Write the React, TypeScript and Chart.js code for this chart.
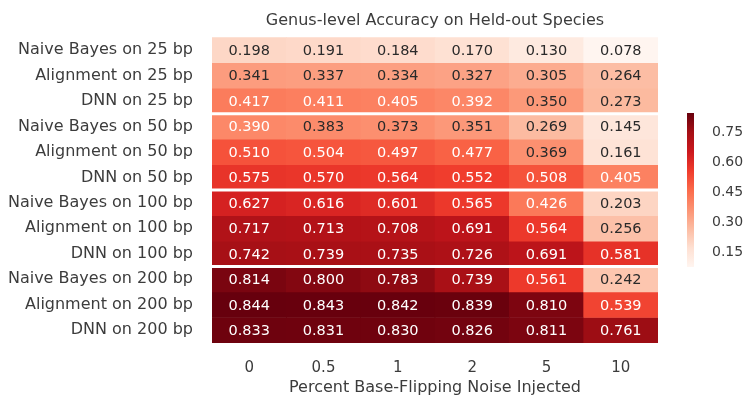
import { useEffect, useRef } from 'react';
import { Chart, registerables } from 'chart.js';

Chart.register(...registerables);

const rowLabels = [
  'Naive Bayes on 25 bp',
  'Alignment on 25 bp',
  'DNN on 25 bp',
  'Naive Bayes on 50 bp',
  'Alignment on 50 bp',
  'DNN on 50 bp',
  'Naive Bayes on 100 bp',
  'Alignment on 100 bp',
  'DNN on 100 bp',
  'Naive Bayes on 200 bp',
  'Alignment on 200 bp',
  'DNN on 200 bp',
];
const noiseLevels = ['0', '0.5', '1', '2', '5', '10'];

const nb25 = [0.198, 0.191, 0.184, 0.17, 0.13, 0.078];
const al25 = [0.341, 0.337, 0.334, 0.327, 0.305, 0.264];
const dnn25 = [0.417, 0.411, 0.405, 0.392, 0.35, 0.273];
const nb50 = [0.39, 0.383, 0.373, 0.351, 0.269, 0.145];
const al50 = [0.51, 0.504, 0.497, 0.477, 0.369, 0.161];
const dnn50 = [0.575, 0.57, 0.564, 0.552, 0.508, 0.405];
const nb100 = [0.627, 0.616, 0.601, 0.565, 0.426, 0.203];
const al100 = [0.717, 0.713, 0.708, 0.691, 0.564, 0.256];
const dnn100 = [0.742, 0.739, 0.735, 0.726, 0.691, 0.581];
const nb200 = [0.814, 0.8, 0.783, 0.739, 0.561, 0.242];
const al200 = [0.844, 0.843, 0.842, 0.839, 0.81, 0.539];
const dnn200 = [0.833, 0.831, 0.83, 0.826, 0.811, 0.761];

const matrix = [nb25, al25, dnn25, nb50, al50, dnn50, nb100, al100, dnn100, nb200, al200, dnn200];
const colorbarTicks = [0.15, 0.3, 0.45, 0.6, 0.75];
const groupBreaks = [3, 6, 9];

const titleText = 'Genus-level Accuracy on Held-out Species';
const xTitleText = 'Percent Base-Flipping Noise Injected';

const FONT = "'DejaVu Sans', sans-serif";
const TEXT = '#3c3c3c';

// matplotlib "Reds"
const redsStops = ['#fff5f0', '#fee0d2', '#fcbba1', '#fc9272', '#fb6a4a', '#ef3b2c', '#cb181d', '#a50f15', '#67000d'];

function hexToRgb(h: string): number[] {
  return [parseInt(h.slice(1, 3), 16), parseInt(h.slice(3, 5), 16), parseInt(h.slice(5, 7), 16)];
}

function redsRgb(t: number): number[] {
  const c = Math.max(0, Math.min(1, t));
  const pos = c * (redsStops.length - 1);
  const i = Math.min(Math.floor(pos), redsStops.length - 2);
  const f = pos - i;
  const a = hexToRgb(redsStops[i]);
  const b = hexToRgb(redsStops[i + 1]);
  return [0, 1, 2].map((k) => a[k] + (b[k] - a[k]) * f);
}

function rgbStr(c: number[]): string {
  return `rgb(${Math.round(c[0])},${Math.round(c[1])},${Math.round(c[2])})`;
}

function luminance(c: number[]): number {
  const lin = c.map((v) => {
    const s = v / 255;
    return s <= 0.03928 ? s / 12.92 : Math.pow((s + 0.055) / 1.055, 2.4);
  });
  return 0.2126 * lin[0] + 0.7152 * lin[1] + 0.0722 * lin[2];
}

const allVals = matrix.flat();
const vmin = Math.min(...allVals);
const vmax = Math.max(...allVals);
const norm = (v: number) => (v - vmin) / (vmax - vmin);

const decorPlugin = {
  id: 'heatDecor',
  afterDatasetsDraw(chart: any) {
    const { ctx, chartArea, scales } = chart;
    const xs = scales.x;
    const ys = scales.y;
    ctx.save();
    // group separators
    ctx.strokeStyle = '#ffffff';
    ctx.lineWidth = 3;
    groupBreaks.forEach((b) => {
      const y = ys.getPixelForValue(b);
      ctx.beginPath();
      ctx.moveTo(chartArea.left, y);
      ctx.lineTo(chartArea.right, y);
      ctx.stroke();
    });
    // annotations
    ctx.font = `14.5px ${FONT}`;
    ctx.textAlign = 'center';
    ctx.textBaseline = 'middle';
    matrix.forEach((row, i) => {
      row.forEach((v, j) => {
        const c = redsRgb(norm(v));
        ctx.fillStyle = luminance(c) > 0.4 ? '#2a2a2a' : '#ffffff';
        const x = xs.getPixelForValue(j);
        const y = ys.getPixelForValue(i + 0.5);
        ctx.fillText(v.toFixed(3), x, y + 1);
      });
    });
    // colorbar
    const cbLeft = chartArea.right + 29;
    const cbWidth = 7;
    const cbTop = 113;
    const cbBottom = 267;
    const grad = ctx.createLinearGradient(0, cbBottom, 0, cbTop);
    redsStops.forEach((s, k) => grad.addColorStop(k / (redsStops.length - 1), s));
    ctx.fillStyle = grad;
    ctx.fillRect(cbLeft, cbTop, cbWidth, cbBottom - cbTop);
    ctx.font = `14px ${FONT}`;
    ctx.fillStyle = TEXT;
    ctx.textAlign = 'left';
    colorbarTicks.forEach((t) => {
      const y = cbBottom - norm(t) * (cbBottom - cbTop);
      ctx.fillText(t.toFixed(2), cbLeft + cbWidth + 18, y);
    });
    ctx.restore();
  },
};

export default function App() {
  const ref = useRef<HTMLCanvasElement | null>(null);
  useEffect(() => {
    if (!ref.current) return;
    const datasets = matrix.map((row, i) => ({
      label: rowLabels[i],
      data: row.map(() => 1),
      backgroundColor: row.map((v) => rgbStr(redsRgb(norm(v)))),
      borderWidth: 0,
      barPercentage: 1,
      categoryPercentage: 1,
    }));
    const chart = new Chart(ref.current, {
      type: 'bar',
      data: { labels: noiseLevels, datasets },
      plugins: [decorPlugin],
      options: {
        animation: false,
        responsive: false,
        devicePixelRatio: 1,
        layout: { padding: { left: 0, right: 89, top: 0, bottom: 0 } },
        plugins: {
          legend: { display: false },
          tooltip: { enabled: false },
          title: {
            display: true,
            text: titleText,
            fullSize: false,
            color: TEXT,
            font: { family: FONT, size: 16, weight: 'normal' },
            padding: { top: 11, bottom: 7 },
          },
        },
        scales: {
          x: {
            stacked: true,
            grid: { display: false, drawTicks: false },
            border: { display: false },
            ticks: { color: TEXT, font: { family: FONT, size: 15 }, padding: 16, maxRotation: 0 },
            title: {
              display: true,
              text: xTitleText,
              color: TEXT,
              font: { family: FONT, size: 16 },
              padding: { top: 2, bottom: 9 },
            },
            afterFit: (s: any) => {
              s.height = 63;
            },
          },
          y: {
            type: 'linear',
            stacked: true,
            reverse: true,
            min: 0,
            max: 12,
            grid: { display: false, drawTicks: false },
            border: { display: false },
            afterBuildTicks: (s: any) => {
              s.ticks = rowLabels.map((_, i) => ({ value: i + 0.5 }));
            },
            ticks: {
              autoSkip: false,
              color: TEXT,
              font: { family: FONT, size: 16 },
              padding: 19,
              callback: (_v: any, index: number) => rowLabels[index],
            },
            afterFit: (s: any) => {
              s.width = 212;
            },
          },
        },
      },
    } as any);
    return () => chart.destroy();
  }, []);
  return (
    <div style={{ position: 'absolute', left: 0, top: 0, width: 747, height: 406, background: '#fff' }}>
      <canvas ref={ref} width={747} height={406} />
    </div>
  );
}
